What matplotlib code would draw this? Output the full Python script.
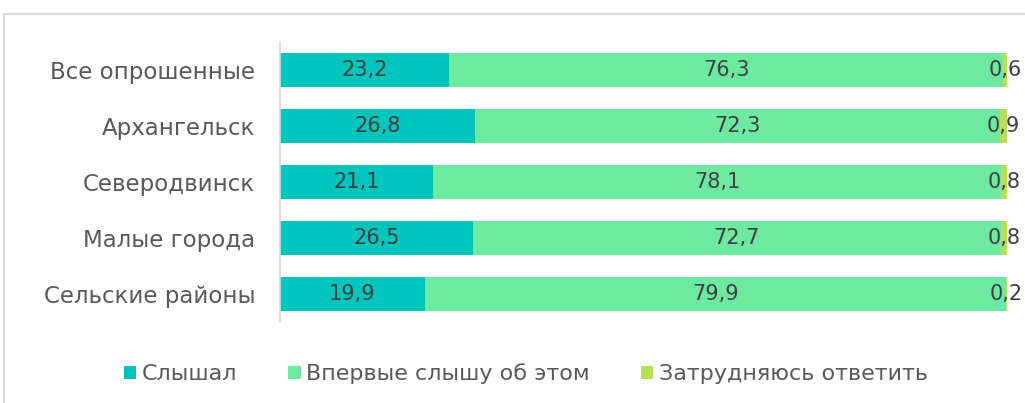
import matplotlib
matplotlib.use("Agg")
import matplotlib.pyplot as plt
from matplotlib.patches import Rectangle
import numpy as np

plt.rcParams["font.family"] = ["DejaVu Sans"]

categories = ["Все опрошенные", "Архангельск", "Северодвинск", "Малые города", "Сельские районы"]
heard = [23.2, 26.8, 21.1, 26.5, 19.9]
first_time = [76.3, 72.3, 78.1, 72.7, 79.9]
unsure = [0.6, 0.9, 0.8, 0.8, 0.2]

series = [
    ("Слышал", heard, "#00C5BD"),
    ("Впервые слышу об этом", first_time, "#6EE9A1"),
    ("Затрудняюсь ответить", unsure, "#B6E05A"),
]

fig = plt.figure(figsize=(10.25, 4.03), dpi=100)
ax = fig.add_axes([280 / 1025, 1 - 322 / 403, 727 / 1025, 280 / 403])

# light frame around the chart area
fig.patches.append(Rectangle((4 / 1025, -0.1), 1.1, 1.1 - 14 / 403,
                             transform=fig.transFigure, fill=False,
                             edgecolor="#D9D9D9", linewidth=1.5))

y = np.arange(len(categories))
left = np.zeros(len(categories))
for name, vals, color in series:
    vals = np.array(vals)
    ax.barh(y, vals, left=left, height=0.59, color=color, label=name)
    for yi, l, v in zip(y, left, vals):
        ax.text(l + v / 2, yi, f"{v:.1f}".replace(".", ","), ha="center", va="center",
                fontsize=15, color="#404040")
    left = left + vals

ax.set_xlim(0, 100)
ax.set_ylim(len(categories) - 0.5, -0.5)
ax.set_yticks(y)
ax.set_yticklabels(categories, fontsize=16.5, color="#595959")
ax.set_xticks([])
ax.tick_params(axis="y", length=0, pad=18)
for side in ["top", "right", "bottom"]:
    ax.spines[side].set_visible(False)
ax.spines["left"].set_color("#D9D9D9")
ax.spines["left"].set_linewidth(1.2)

fig.legend(loc="center", bbox_to_anchor=(0.513, 1 - 374 / 403), ncol=3, frameon=False,
           fontsize=16, handlelength=0.55, handleheight=0.55, handletextpad=0.25,
           columnspacing=2.3, labelcolor="#595959")

fig.savefig("out.png", dpi=100)
